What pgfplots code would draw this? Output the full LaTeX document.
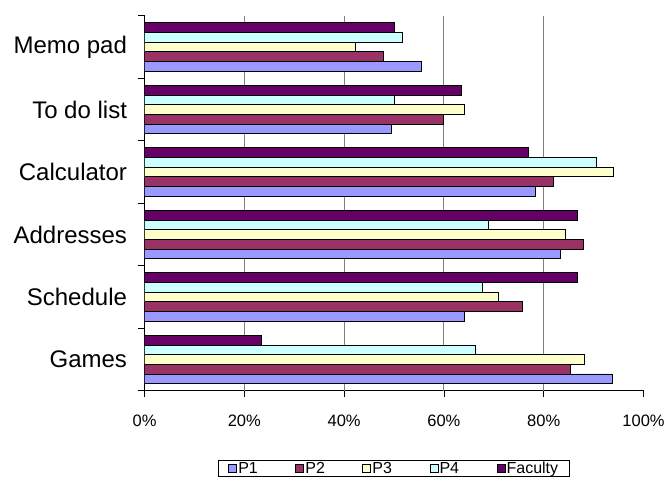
\documentclass[border=0pt]{standalone}
\usepackage{fontspec}
\setmainfont{Liberation Sans}
\usepackage{pgfplots}
\pgfplotsset{compat=1.18}

\definecolor{cPone}{HTML}{9999FF}
\definecolor{cPtwo}{HTML}{993366}
\definecolor{cPthree}{HTML}{FFFFCC}
\definecolor{cPfour}{HTML}{CCFFFF}
\definecolor{cFac}{HTML}{660066}

% y: 0 Games, 1 Schedule, 2 Addresses, 3 Calculator, 4 To do list, 5 Memo pad
\pgfplotstableread{
y  P1    P2    P3    P4    Fac
0  93.8  85.4  88.1  66.2  23.5
1  64.0  75.7  71.0  67.7  86.7
2  83.3  87.9  84.3  68.8  86.7
3  78.4  81.9  93.9  90.5  76.9
4  49.4  59.9  64.0  50.1  63.4
5  55.5  47.8  42.3  51.6  50.0
}\usage

\begin{document}
\begin{tikzpicture}
\useasboundingbox (0pt,0pt) rectangle (666pt,478pt);
\begin{axis}[
  at={(144.5pt,87.3pt)}, anchor=south west,
  scale only axis, width=499pt, height=375pt,
  xmin=0, xmax=100, ymin=-0.5, ymax=5.5,
  axis x line*=bottom, axis y line*=left,
  axis line style={black, line width=0.7pt},
  xbar, bar width=0.155,
  every axis plot/.append style={draw=black, line width=0.6pt},
  xtick={0,20,...,100},
  xticklabels={0\%,20\%,40\%,60\%,80\%,100\%},
  xticklabel style={font=\fontsize{16.5}{18}\selectfont, yshift=-15pt},
  extra x ticks={20,40,60,80},
  extra x tick labels={},
  extra x tick style={grid=major, major grid style={gray, line width=0.9pt}, major tick length=0pt},
  ytick={0,...,5},
  yticklabels={Games,Schedule,Addresses,Calculator,To do list,Memo pad},
  yticklabel style={font=\fontsize{24}{26}\selectfont, xshift=-8pt},
  y tick style={draw=none},
  extra y ticks={-0.5,0.5,...,5.5},
  extra y tick labels={},
  extra y tick style={y tick style={draw=black}},
  tick align=outside, major tick length=6pt,
  tick style={black, line width=0.7pt},
  legend style={at={(0.5,-0.185)}, anchor=north, legend columns=5,
    draw=black, line width=0.6pt, font=\fontsize{16}{17}\selectfont,
    inner xsep=10pt, inner ysep=0pt,
    nodes={inner sep=1.5pt},
    /tikz/every even column/.append style={column sep=36pt}},
  legend image code/.code={\draw[#1, draw=black, line width=0.5pt] (0pt,-4pt) rectangle (8pt,4pt);},
]
\addplot[fill=cPone,   bar shift=-0.31]  table[x=P1,  y=y] {\usage};
\addplot[fill=cPtwo,   bar shift=-0.155] table[x=P2,  y=y] {\usage};
\addplot[fill=cPthree, bar shift=0]      table[x=P3,  y=y] {\usage};
\addplot[fill=cPfour,  bar shift=0.155]  table[x=P4,  y=y] {\usage};
\addplot[fill=cFac,    bar shift=0.31]   table[x=Fac, y=y] {\usage};
\legend{P1,P2,P3,P4,Faculty}
\end{axis}
\end{tikzpicture}
\end{document}
